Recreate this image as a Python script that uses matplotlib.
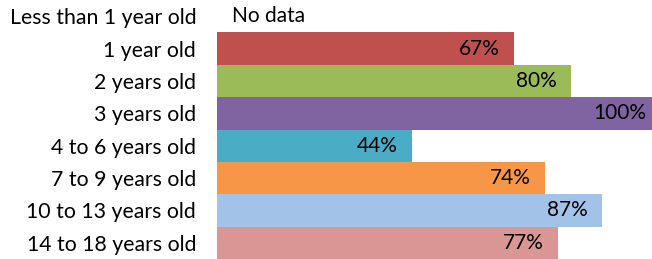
import matplotlib.pyplot as plt

plt.rcParams['font.family'] = ['Lato', 'DejaVu Sans']

categories = ['Less than 1 year old', '1 year old', '2 years old', '3 years old',
              '4 to 6 years old', '7 to 9 years old', '10 to 13 years old',
              '14 to 18 years old']
values = [None, 67, 80, 100, 44, 74, 87, 77]
colors = [None, '#C0504D', '#9BBB59', '#8064A2', '#4BACC6', '#F79646',
          '#A3C2E8', '#D99694']

fig = plt.figure(figsize=(6.52, 2.59), dpi=100)
# the 100% bar runs a little past the right edge of the picture
ax = fig.add_axes([217 / 652, 0, 443 / 652, 1])

for i, (v, c) in enumerate(zip(values, colors)):
    if v is None:
        ax.text(3.4, i, 'No data', ha='left', va='center', fontsize=15)
        continue
    ax.barh(i, v, height=1.0, color=c)
    ax.text(v - 3.2, i, f'{v}%', ha='right', va='center', fontsize=15)

ax.set_xlim(0, 100)
ax.set_ylim(len(categories) - 0.5, -0.5)
ax.set_yticks(range(len(categories)))
ax.set_yticklabels(categories, fontsize=15.3)
ax.tick_params(axis='y', length=0, pad=15)
ax.set_xticks([])
for s in ax.spines.values():
    s.set_visible(False)

fig.savefig('out.png', dpi=100)
